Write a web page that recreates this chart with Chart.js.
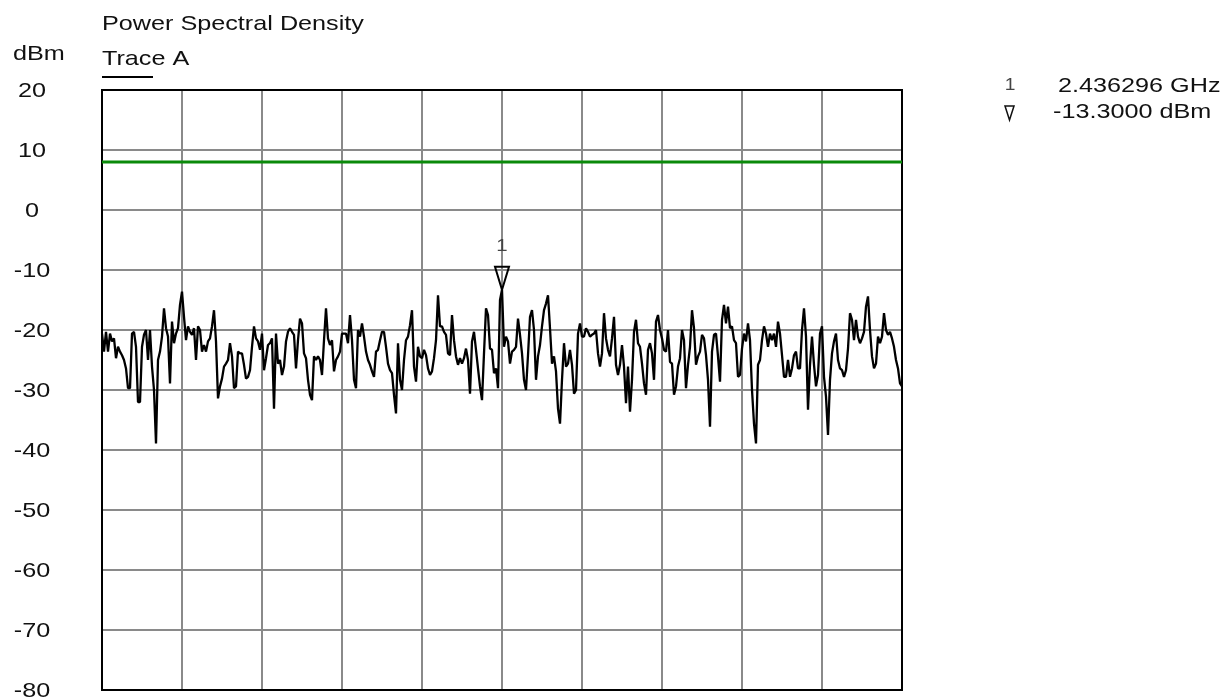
<!DOCTYPE html>
<html>
<head>
<meta charset="utf-8">
<script src="https://cdn.jsdelivr.net/npm/chart.js@4"></script>
<style>
  html, body { margin: 0; padding: 0; background: #fff; }
  canvas { display: block; }
</style>
</head>
<body>
<canvas id="psdChart" width="1225" height="700"></canvas>
<script>
// sweep of 401 points (dBm)
const levelDbm = [
  -20.6, -23.6, -20.3, -23.6, -20.6, -21.9, -21.4, -24.7, -22.8, -23.6,
  -24.2, -25.0, -26.4, -29.7, -29.7, -20.6, -20.3, -22.8, -32.0, -32.0,
  -22.8, -20.8, -20.0, -25.0, -20.0, -26.1, -30.0, -38.9, -25.0, -23.6,
  -21.1, -16.4, -19.7, -21.1, -28.9, -18.6, -22.2, -20.6, -19.7, -15.8,
  -13.6, -17.8, -21.7, -19.4, -20.3, -20.8, -19.7, -25.0, -19.4,
  -20.0, -23.6, -22.5, -23.6, -21.9, -21.4, -19.4, -16.7, -21.9, -31.4,
  -29.4, -28.1, -26.1, -25.6, -25.0, -22.2, -24.4, -29.7, -29.4, -23.6,
  -23.9, -23.9, -25.8, -28.1, -27.8, -26.7, -22.8, -19.4, -21.4, -21.9,
  -23.3, -20.6, -26.7, -24.7, -22.5, -22.2, -21.4, -33.1, -20.6, -25.6,
  -25.0, -27.5, -26.1, -21.9, -20.3, -19.7, -20.3, -20.8, -26.4, -21.7,
  -18.1, -18.9, -23.9, -24.7, -28.3, -30.8, -31.7, -24.4, -25.0, -24.4,
  -25.0, -27.5, -21.7, -16.4, -21.4, -22.5, -21.7, -26.9, -25.0, -24.4,
  -23.6, -20.6, -20.6, -20.6, -22.2, -17.5, -21.7, -28.3, -29.7, -20.0,
  -21.1, -18.9, -21.1, -23.6, -25.0, -25.8, -26.9, -27.8, -23.6, -23.3,
  -21.7, -20.3, -20.3, -22.8, -25.6, -26.7, -27.2, -30.8, -33.9, -22.2,
  -28.3, -30.0, -25.0, -21.7, -21.1, -19.2, -16.7, -26.1, -28.6, -22.8,
  -24.4, -24.7, -23.3, -24.2, -26.4, -27.5, -26.9, -24.7, -21.7, -14.2,
  -19.4, -19.4, -20.3, -20.8, -23.9, -24.2, -17.5, -21.7, -24.4, -25.8,
  -24.7, -25.6, -24.7, -23.1, -25.0, -30.6, -21.9, -20.3, -23.3, -26.4,
  -29.4, -31.7, -23.9, -16.4, -17.5, -23.1, -23.3, -27.2, -26.4, -29.7,
  -15.0, -13.3, -22.8, -21.1, -21.9, -25.6, -23.6, -23.3, -22.8, -18.1,
  -20.8, -23.9, -28.3, -30.0, -24.2, -17.8, -16.7, -20.0, -28.3, -24.4,
  -22.5, -19.4, -16.7, -15.6, -14.2, -19.7, -25.6, -24.4, -26.9, -33.1,
  -35.6, -28.3, -22.2, -26.1, -25.6, -23.3, -25.8, -30.6, -30.0, -20.6,
  -18.9, -21.1, -21.1, -19.7, -20.3, -21.1, -20.8, -20.6, -20.0, -23.9,
  -26.1, -23.9, -17.2, -21.4, -23.3, -24.4, -21.4, -17.8, -25.8, -27.5,
  -25.8, -22.5, -26.1, -32.2, -26.1, -33.6, -28.3, -20.3, -18.3, -22.2,
  -22.8, -25.6, -28.9, -30.8, -23.3, -22.2, -23.9, -28.3, -18.6, -17.5,
  -20.0, -21.4, -23.3, -23.6, -20.0, -25.3, -25.6, -30.8, -29.4, -26.1,
  -24.7, -20.0, -21.7, -29.7, -25.8, -22.8, -16.7, -19.7, -25.8, -24.4,
  -23.6, -20.8, -21.4, -24.2, -28.3, -36.1, -23.6, -20.8, -20.6, -24.4,
  -28.6, -18.3, -15.8, -18.9, -16.1, -19.7, -19.4, -21.7, -22.2, -27.8,
  -27.5, -23.1, -20.6, -21.9, -18.9, -21.7, -30.0, -35.6, -38.9, -25.8,
  -25.0, -21.7, -19.4, -20.6, -22.8, -20.6, -21.7, -20.6, -22.8, -18.6,
  -20.6, -24.2, -27.8, -27.8, -25.0, -27.8, -26.4, -24.2, -23.6, -26.4,
  -26.4, -20.0, -16.4, -21.1, -33.3, -25.8, -21.1, -25.8, -29.4, -27.5,
  -20.6, -19.4, -27.8, -31.1, -37.5, -28.3, -23.9, -21.9, -20.6, -25.0,
  -26.4, -26.7, -27.8, -26.7, -23.1, -17.2, -18.3, -21.7, -18.3, -21.1,
  -22.2, -21.4, -20.3, -16.1, -14.4, -20.0, -24.4, -26.4, -25.6, -21.1,
  -22.2, -21.1, -17.2, -20.0, -20.8, -20.3, -21.4, -22.8, -25.0, -26.4,
  -28.9, -29.4
];

const limitDbm = 8;
const yTickLabels = ['20', '10', '0', '-10', '-20', '-30', '-40', '-50', '-60', '-70', '-80'];

const markerIndex = 200;
const markerName = '1';
const markerFreqText = '2.436296 GHz';
const markerLevelText = '-13.3000 dBm';

const FONT = '"Liberation Sans", Arial, sans-serif';
const STRETCH = 1.2; // text in the original is a bit wide

function drawText(ctx, str, x, y, size, align, color) {
    ctx.save();
    ctx.font = size + 'px ' + FONT;
    ctx.fillStyle = color || '#111';
    ctx.textAlign = align || 'left';
    ctx.textBaseline = 'alphabetic';
    ctx.translate(x, y);
    ctx.scale(STRETCH, 1);
    ctx.fillText(str, 0, 0);
    ctx.restore();
}

const overlay = {
    id: 'overlay',
    beforeDatasetsDraw(chart) {
        const { ctx, chartArea: a } = chart;
        ctx.save();
        ctx.strokeStyle = '#000';
        ctx.lineWidth = 2;
        ctx.strokeRect(a.left, a.top, a.right - a.left, a.bottom - a.top);
        ctx.restore();
    },
    afterDraw(chart) {
        const { ctx, chartArea: a } = chart;
        const xs = chart.scales.x, ys = chart.scales.y;

        // headings
        drawText(ctx, 'Power Spectral Density', a.left, 30, 21);
        drawText(ctx, 'dBm', 13, 60, 21);
        drawText(ctx, 'Trace A', a.left, 65, 21);
        ctx.save();
        ctx.strokeStyle = '#000';
        ctx.lineWidth = 2;
        ctx.beginPath();
        ctx.moveTo(a.left, 77);
        ctx.lineTo(a.left + 51, 77);
        ctx.stroke();
        ctx.restore();

        // y tick labels
        yTickLabels.forEach(t => {
            const py = ys.getPixelForValue(Number(t));
            drawText(ctx, t, 32, py + 7, 21, 'center');
        });

        // marker on the trace
        const mx = xs.getPixelForValue(markerIndex);
        const my = ys.getPixelForValue(levelDbm[markerIndex]);
        ctx.save();
        ctx.strokeStyle = '#000';
        ctx.lineWidth = 2;
        ctx.beginPath();
        ctx.moveTo(mx - 7, my - 23);
        ctx.lineTo(mx + 7, my - 23);
        ctx.lineTo(mx, my);
        ctx.closePath();
        ctx.stroke();
        ctx.restore();
        drawText(ctx, markerName, mx, my - 39, 17, 'center', '#444');

        // marker readout
        drawText(ctx, markerName, 1010, 90, 16, 'center', '#444');
        drawText(ctx, markerFreqText, 1058, 92, 21);
        ctx.save();
        ctx.strokeStyle = '#111';
        ctx.lineWidth = 1.5;
        ctx.beginPath();
        ctx.moveTo(1005, 106);
        ctx.lineTo(1014, 106);
        ctx.lineTo(1009.5, 120);
        ctx.closePath();
        ctx.stroke();
        ctx.restore();
        drawText(ctx, markerLevelText, 1053, 118, 21);
    }
};

const ctx = document.getElementById('psdChart').getContext('2d');
new Chart(ctx, {
    type: 'line',
    data: {
        datasets: [
            {
                label: 'Trace A',
                data: levelDbm.map((v, i) => ({ x: i, y: v })),
                borderColor: '#000',
                borderWidth: 2.3,
                borderJoinStyle: 'bevel',
                pointRadius: 0,
                tension: 0
            },
            {
                label: 'Limit',
                data: [{ x: 0, y: limitDbm }, { x: levelDbm.length - 1, y: limitDbm }],
                borderColor: '#0a8a0a',
                borderWidth: 3,
                pointRadius: 0
            }
        ]
    },
    options: {
        responsive: false,
        animation: false,
        layout: { padding: { left: 102, right: 323, top: 90, bottom: 10 } },
        plugins: {
            legend: { display: false },
            tooltip: { enabled: false }
        },
        scales: {
            x: {
                type: 'linear',
                min: 0,
                max: levelDbm.length - 1,
                ticks: { display: false, stepSize: 40 },
                grid: { color: '#8a8a8a', lineWidth: 2, drawTicks: false },
                border: { display: false },
                afterFit(scale) { scale.height = 0; }
            },
            y: {
                min: -80,
                max: 20,
                ticks: { display: false, stepSize: 10 },
                grid: { color: '#8a8a8a', lineWidth: 2, drawTicks: false },
                border: { display: false },
                afterFit(scale) { scale.width = 0; }
            }
        }
    },
    plugins: [overlay]
});
</script>
</body>
</html>
